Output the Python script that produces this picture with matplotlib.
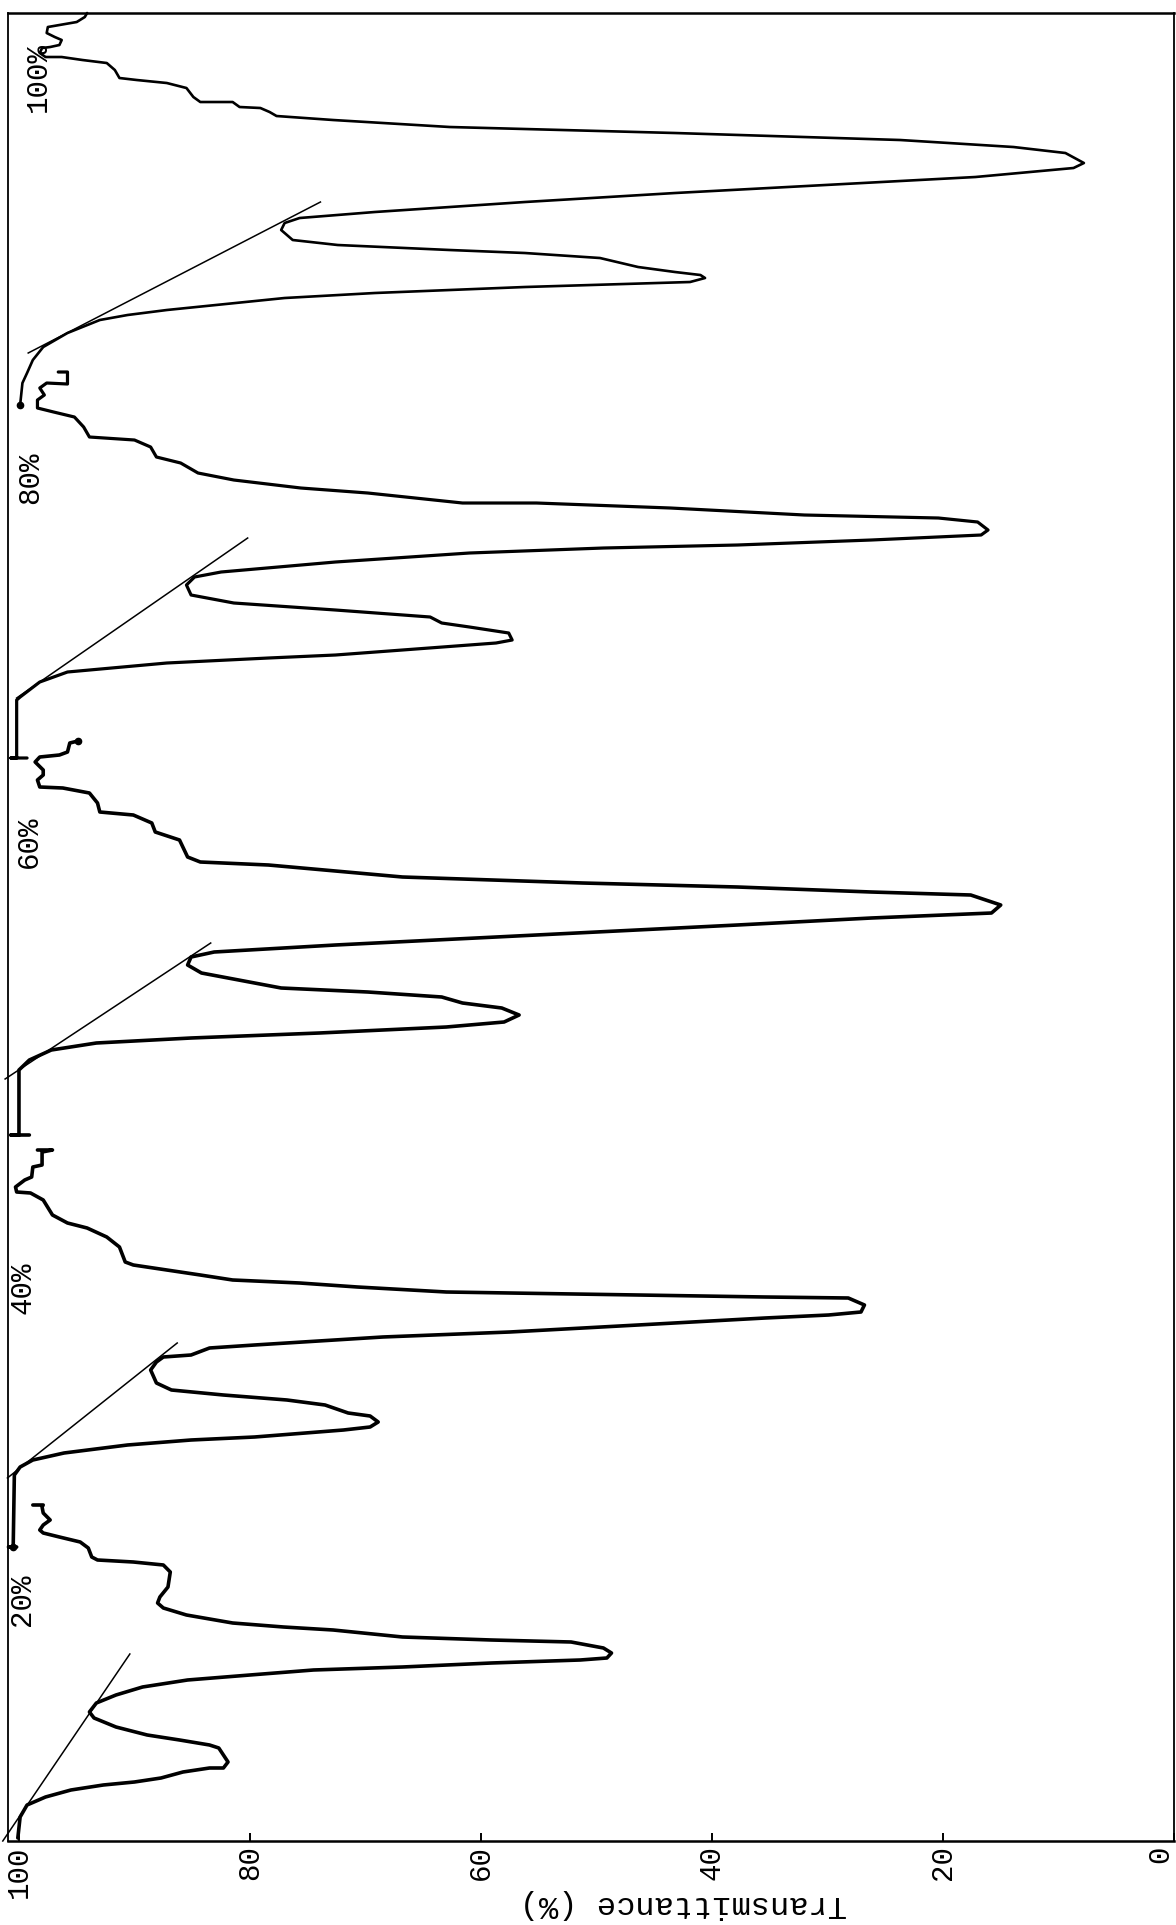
import matplotlib
matplotlib.use('Agg')
import matplotlib.pyplot as plt

# five recorder traces, transmittance (%) against position down the chart paper
t_100 = [94.1, 94.3, 95.0, 96.5, 97.5, 97.6, 96.9, 96.3, 96.5, 97.3, 98.0, 98.2, 97.7, 96.3, 94.5, 92.4,
         91.7, 91.3, 89.8, 87.2, 85.5, 84.9, 84.3, 81.5, 80.9, 79.1, 78.3, 77.7, 72.8, 62.7, 43.2, 23.7,
         13.9, 9.4, 7.8, 8.7, 17.2, 30.2, 43.2, 56.2, 69.2, 75.7, 77.0, 77.3, 76.3, 72.4, 62.7, 56.2,
         49.7, 46.4, 43.2, 41.0, 40.6, 41.9, 56.2, 69.2, 77.0, 87.2, 90.6, 93.0, 95.8, 97.9, 98.8, 99.3,
         99.7, 99.9]
p_100 = [13, 17, 22, 25, 27, 33, 37, 40, 45, 47, 48, 53, 57, 57, 60, 63, 70, 78, 80, 83, 88, 97, 102, 102,
         107, 108, 112, 116, 120, 127, 133, 140, 147, 153, 163, 168, 177, 185, 193, 202, 212, 218, 223,
         230, 240, 245, 250, 253, 258, 267, 272, 275, 278, 282, 287, 293, 298, 310, 315, 320, 333, 347,
         360, 373, 383, 405]

t_80 = [96.6, 95.8, 95.8, 97.6, 98.2, 97.8, 98.4, 98.4, 97.0, 95.2, 94.4, 93.9, 90.0, 88.6, 88.1, 86.0,
        84.5, 81.4, 75.6, 69.8, 61.6, 55.2, 43.6, 32.0, 20.4, 17.0, 16.1, 16.7, 26.2, 37.8, 49.4, 61.0,
        72.6, 82.5, 84.8, 85.5, 85.1, 81.4, 72.6, 64.4, 63.4, 61.0, 57.6, 57.3, 58.7, 66.8, 72.6, 78.4,
        87.2, 95.8, 98.2, 99.9, 100.2, 100.2, 100.7, 99.3]
p_80 = [372, 372, 384, 383, 388, 395, 400, 408, 412, 417, 427, 437, 440, 447, 457, 463, 473, 480, 488, 493,
        503, 503, 508, 515, 518, 522, 530, 535, 540, 545, 548, 553, 562, 572, 577, 585, 595, 603, 610, 617,
        623, 627, 633, 640, 643, 650, 655, 658, 663, 672, 682, 697, 700, 758, 758, 758]

t_60 = [94.9, 95.6, 95.8, 96.5, 98.2, 98.6, 97.9, 97.9, 98.4, 98.2, 96.2, 93.9, 93.2, 93.0, 90.1, 88.5,
        88.2, 86.1, 85.4, 84.3, 78.4, 66.8, 51.2, 37.8, 26.2, 17.6, 15.0, 15.8, 26.2, 37.8, 55.2, 72.6,
        83.1, 85.1, 85.4, 84.2, 77.3, 69.8, 63.4, 61.6, 58.2, 56.7, 58.0, 63.0, 74.0, 85.1, 93.3, 97.2,
        99.1, 100.0, 100.0, 100.0, 100.7, 99.1]
p_60 = [741, 743, 752, 755, 757, 762, 770, 775, 780, 787, 788, 793, 803, 812, 815, 823, 832, 840, 857, 862,
        865, 877, 883, 887, 892, 895, 905, 913, 918, 925, 935, 945, 952, 957, 965, 973, 988, 992, 997, 1003,
        1008, 1015, 1022, 1027, 1033, 1038, 1043, 1050, 1060, 1070, 1133, 1135, 1135, 1135]

t_40 = [98.4, 97.1, 98.0, 98.0, 98.8, 98.9, 99.5, 100.3, 100.2, 99.0, 97.9, 97.1, 95.8, 94.1, 92.4, 91.3,
        90.8, 90.1, 87.2, 84.3, 81.5, 75.7, 70.7, 63.0, 57.5, 46.4, 35.4, 28.2, 26.8, 27.1, 29.9, 35.4,
        46.4, 57.5, 68.5, 79.6, 83.5, 85.1, 87.5, 88.1, 88.6, 88.1, 86.8, 82.3, 76.8, 73.5, 71.5, 69.6,
        68.9, 69.6, 71.9, 75.2, 79.6, 85.1, 90.6, 96.1, 98.8, 99.9, 100.4, 100.5, 100.9, 100.2]
p_40 = [1150, 1150, 1152, 1165, 1167, 1177, 1180, 1187, 1192, 1193, 1200, 1215, 1223, 1228, 1237, 1247,
        1262, 1265, 1270, 1275, 1280, 1283, 1287, 1292, 1293, 1295, 1297, 1298, 1305, 1312, 1315, 1318,
        1325, 1332, 1337, 1345, 1348, 1355, 1357, 1362, 1370, 1383, 1390, 1395, 1400, 1405, 1413, 1416,
        1422, 1427, 1430, 1433, 1437, 1440, 1445, 1453, 1460, 1467, 1475, 1547, 1547, 1547]

t_20 = [98.8, 97.9, 98.0, 97.9, 97.3, 97.9, 98.2, 97.9, 96.5, 94.7, 94.0, 93.7, 93.2, 90.1, 87.5, 86.9,
        87.1, 87.8, 88.0, 87.5, 85.5, 81.5, 77.1, 72.8, 66.8, 59.1, 52.2, 49.4, 48.7, 49.1, 51.4, 59.1,
        66.8, 74.5, 80.0, 85.4, 89.3, 91.6, 93.3, 93.9, 93.5, 91.6, 88.9, 86.1, 83.5, 82.7, 81.9, 82.3,
        83.5, 85.8, 87.7, 90.0, 92.7, 95.5, 97.7, 99.3, 99.9, 100.1]
p_20 = [1505, 1505, 1507, 1513, 1520, 1525, 1530, 1533, 1537, 1542, 1548, 1557, 1560, 1562, 1565, 1572,
        1587, 1597, 1603, 1608, 1615, 1623, 1627, 1630, 1637, 1640, 1642, 1648, 1653, 1658, 1660, 1663,
        1667, 1670, 1675, 1680, 1687, 1695, 1703, 1712, 1718, 1727, 1735, 1740, 1745, 1748, 1762, 1768,
        1768, 1772, 1778, 1782, 1785, 1790, 1797, 1805, 1817, 1838]

# baseline tangents under the doublets (two end points each)
tan_t_100, tan_p_100 = [73.9, 99.2], [202, 353]
tan_t_80, tan_p_80 = [80.2, 100.2], [538, 698]
tan_t_60, tan_p_60 = [83.4, 101.2], [943, 1079]
tan_t_40, tan_p_40 = [86.3, 101.0], [1343, 1478]
tan_t_20, tan_p_20 = [90.4, 101.4], [1654, 1841]

# pen blots at trace ends
dot_t = [99.9, 94.9, 100.5]
dot_p = [405, 741, 1547]

conc_labels = ['20%', '40%', '60%', '80%', '100%']
ticks = [100, 80, 60, 40, 20, 0]

mono = ['Liberation Mono', 'DejaVu Sans Mono']

fig = plt.figure(figsize=(11.76, 19.25), dpi=100)
ax = fig.add_axes([0.0068, 0.04364, 0.9915, 0.9496])

traces = [(t_20, p_20, 2.6), (t_40, p_40, 2.6), (t_60, p_60, 2.6), (t_80, p_80, 2.3), (t_100, p_100, 1.9)]
for t, p, lw in traces:
    ax.plot(t, p, color='black', lw=lw, solid_joinstyle='round', solid_capstyle='round', clip_on=False)

for t, p in [(tan_t_20, tan_p_20), (tan_t_40, tan_p_40), (tan_t_60, tan_p_60),
             (tan_t_80, tan_p_80), (tan_t_100, tan_p_100)]:
    ax.plot(t, p, color='black', lw=1.1, clip_on=False)

ax.plot(dot_t, dot_p, 'o', color='black', ms=4.5, clip_on=False)

# concentration labels beside each trace
lab_t = [99.7, 99.7, 99.1, 99.0, 98.4]
lab_p = [1600, 1288, 842, 478, 77]
for s, x, y in zip(conc_labels, lab_t, lab_p):
    ax.text(x, y, s, rotation=90, ha='center', va='center', fontsize=21, family=mono)

ax.set_xlim(100.95, 0)
ax.set_ylim(1841, 13)
ax.set_yticks([])
ax.set_xticks(ticks)
ax.set_xticklabels([str(v) for v in ticks], rotation=90, family=mono, fontsize=21)
ax.get_xticklabels()[-1].set_horizontalalignment('right')
ax.tick_params(axis='x', direction='in', length=6, width=1.4, pad=3)

for side in ['top', 'bottom']:
    ax.spines[side].set_linewidth(1.8)
for side in ['left', 'right']:
    ax.spines[side].set_linewidth(1.3)

ax.set_xlabel('Transmittance (%)', rotation=180, family=mono, fontsize=23, va='center')
ax.xaxis.set_label_coords(0.579, -0.0345)

fig.savefig('out.png', dpi=100)
